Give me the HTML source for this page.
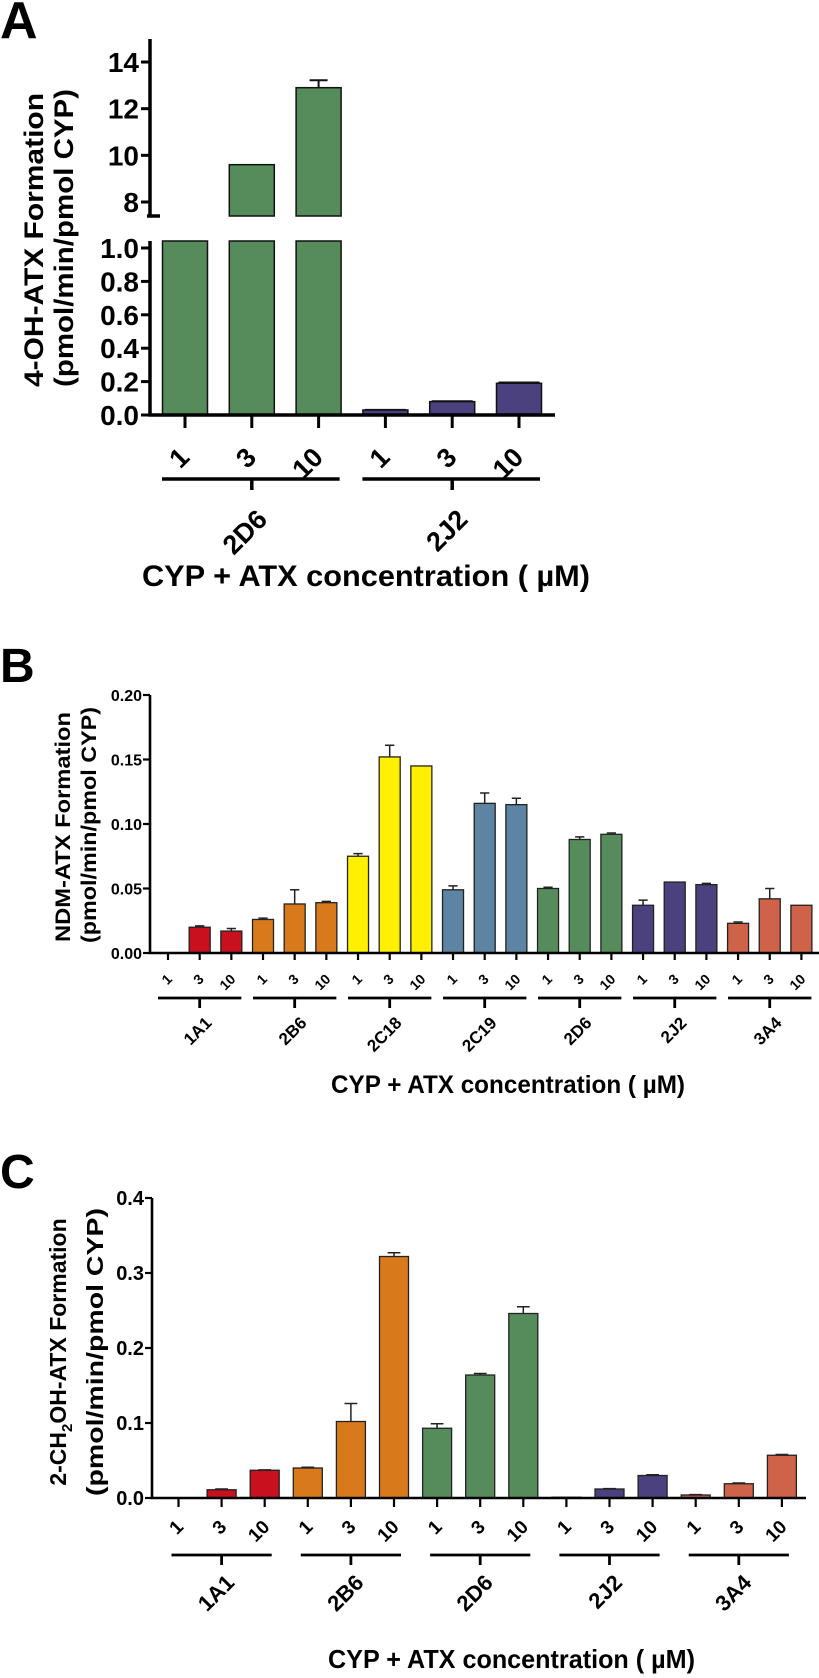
<!DOCTYPE html>
<html><head><meta charset="utf-8">
<style>
html,body{margin:0;padding:0;background:#fff;}
svg{display:block;font-family:"Liberation Sans Narrow","Liberation Sans",Arial,sans-serif;font-weight:bold;}
</style></head>
<body>
<svg id="fig" width="819" height="1678" viewBox="0 0 819 1678" xmlns="http://www.w3.org/2000/svg">
<text x="0" y="38" font-size="52" font-family="Liberation Sans, sans-serif">A</text>
<text x="0" y="682" font-size="48" font-family="Liberation Sans, sans-serif">B</text>
<text x="0" y="1188" font-size="48" font-family="Liberation Sans, sans-serif">C</text>
<g id="pa"></g>
<g id="pb"></g>
<g id="pc"></g>
</svg>
<script>
// ---- Panel A data ----
const aGroups = ["2D6","2J2"];
const aConc = ["1","3","10"];
const aValues = [3.0, 9.6, 12.9, 0.03, 0.08, 0.19];
const aErrors = [0, 0.02, 0.32, 0.002, 0.004, 0.006];
const aUpperTicks = [8, 10, 12, 14];
const aLowerTicks = ["0.0","0.2","0.4","0.6","0.8","1.0"];
// ---- Panel B data ----
const bGroups = ["1A1","2B6","2C18","2C19","2D6","2J2","3A4"];
const bConc = ["1","3","10"];
const bValues = [0, 0.020, 0.017, 0.026, 0.038, 0.039, 0.075, 0.152, 0.145, 0.049, 0.116, 0.115, 0.050, 0.088, 0.092, 0.037, 0.055, 0.053, 0.023, 0.042, 0.037];
const bErrors = [0, 0.001, 0.002, 0.001, 0.011, 0.001, 0.002, 0.009, 0, 0.003, 0.008, 0.005, 0.001, 0.002, 0.001, 0.004, 0, 0.001, 0.001, 0.008, 0];
const bTicks = ["0.00","0.05","0.10","0.15","0.20"];
// ---- Panel C data ----
const cGroups = ["1A1","2B6","2D6","2J2","3A4"];
const cConc = ["1","3","10"];
const cValues = [0, 0.011, 0.037, 0.040, 0.102, 0.322, 0.093, 0.164, 0.246, 0.001, 0.012, 0.030, 0.004, 0.019, 0.057];
const cErrors = [0, 0.001, 0.0005, 0.001, 0.024, 0.005, 0.006, 0.002, 0.009, 0, 0.0005, 0.001, 0.0005, 0.001, 0.001];
const cTicks = ["0.0","0.1","0.2","0.3","0.4"];

const colorMap = {"1A1":"#c8101e","2B6":"#d87a1c","2C18":"#fff000","2C19":"#5e84a3","2D6":"#568c5c","2J2":"#4a417e","3A4":"#cf634a"};
const NS = "http://www.w3.org/2000/svg";
function mk(parent, tag, attrs, txt){
  const e = document.createElementNS(NS, tag);
  for (const k in attrs) e.setAttribute(k, attrs[k]);
  if (txt !== undefined) e.textContent = txt;
  parent.appendChild(e);
  return e;
}

// ================= Panel A =================
(function(){
  const g = document.getElementById('pa');
  const axX = 150, x0 = 185, dx = 66.8, bw = 45;
  const yL = v => 415 - v * 167;
  const yU = v => 202 - (v - 8) * 23.33;
  const lowTop = 241, upBot = 216;
  aValues.forEach((v, i) => {
    const grp = aGroups[Math.floor(i / 3)];
    const cx = x0 + i * dx;
    const col = colorMap[grp];
    const top = Math.max(yL(v), lowTop);
    const r = mk(g, 'rect', {x: cx - bw/2, y: top, width: bw, height: 415 - top, fill: col, stroke: '#111', 'stroke-width': 1.5});
    
    
    if (v > 7.4) {
      const ut = yU(v);
      const r2 = mk(g, 'rect', {x: cx - bw/2, y: ut, width: bw, height: upBot - ut, fill: col, stroke: '#111', 'stroke-width': 1.5});
      
      
      const e = aErrors[i];
      if (e > 0.05) {
        const ey = yU(v + e);
        const el = mk(g, 'path', {d: `M${cx} ${ut} V${ey} M${cx-9} ${ey} H${cx+9}`, stroke: '#111', 'stroke-width': 2, fill: 'none'});
        
        
      }
    } else if (aErrors[i] > 0) {
      const ey = yL(v + aErrors[i]);
      const el = mk(g, 'path', {d: `M${cx-bw/2+2} ${ey} H${cx+bw/2-2}`, stroke: '#111', 'stroke-width': 1.5, fill: 'none'});
      
      
    }
    mk(g, 'line', {x1: cx, y1: 415, x2: cx, y2: 428, stroke: '#000', 'stroke-width': 3});
    const t = mk(g, 'text', {x: 0, y: 0, 'font-size': 27, 'text-anchor': 'end', 'font-family': 'Liberation Sans, sans-serif', transform: `translate(${cx + 6},${459}) rotate(-45)`}, aConc[i % 3]);
    
    
  });
  const ax = mk(g, 'path', {d: `M${axX} 39 V${upBot} M${axX-3} ${upBot} H${axX+10} M${axX} ${lowTop} V415 H555`, stroke: '#000', 'stroke-width': 3.5, fill: 'none'});
  
  
  aUpperTicks.forEach(v => {
    const y = yU(v);
    mk(g, 'line', {x1: axX - 9, y1: y, x2: axX, y2: y, stroke: '#000', 'stroke-width': 3});
    const t = mk(g, 'text', {x: axX - 11, y: y + 10, 'font-size': 28, 'text-anchor': 'end', 'font-family': 'Liberation Sans, sans-serif'}, String(v));
    
    
  });
  aLowerTicks.forEach(s => {
    const y = yL(parseFloat(s));
    mk(g, 'line', {x1: axX - 9, y1: y, x2: axX, y2: y, stroke: '#000', 'stroke-width': 3});
    const t = mk(g, 'text', {x: axX - 11, y: y + 10, 'font-size': 28, 'text-anchor': 'end', 'font-family': 'Liberation Sans, sans-serif'}, s);
    
    
  });
  aGroups.forEach((gname, k) => {
    const c0 = x0 + k * 3 * dx, c2 = c0 + 2 * dx, cm = c0 + dx;
    mk(g, 'path', {d: `M${c0-23} 479 H${c2+21} M${cm} 479 V490`, stroke: '#000', 'stroke-width': 3.5, fill: 'none'});
    const t = mk(g, 'text', {x: 0, y: 0, 'font-size': 27, 'text-anchor': 'end', 'font-family': 'Liberation Sans, sans-serif', transform: `translate(${cm + 17},${521}) rotate(-45)`}, gname);
    
    
  });
  const xt = mk(g, 'text', {x: 142, y: 586, 'font-size': 30, 'font-family': 'Liberation Sans, sans-serif', textLength: 448, lengthAdjust: 'spacingAndGlyphs'}, 'CYP + ATX concentration ( \u00b5M)');
  
  
  const y1 = mk(g, 'text', {x: 0, y: 0, 'font-size': 27, 'text-anchor': 'middle', 'font-family': 'Liberation Sans, sans-serif', textLength: 294, lengthAdjust: 'spacingAndGlyphs', transform: 'translate(43,240) rotate(-90)'}, '4-OH-ATX Formation');
  
  
  const y2 = mk(g, 'text', {x: 0, y: 0, 'font-size': 27, 'text-anchor': 'middle', 'font-family': 'Liberation Sans, sans-serif', textLength: 298, lengthAdjust: 'spacingAndGlyphs', transform: 'translate(73,238) rotate(-90)'}, '(pmol/min/pmol CYP)');
  
  
})();

// ================= Generic panel (B, C) =================
function panel(id, groups, conc, values, errors, ticks, cfg){
  const g = document.getElementById(id);
  const y = v => cfg.y0 - v * cfg.k;
  values.forEach((v, i) => {
    const grp = groups[Math.floor(i / 3)];
    const cx = cfg.x0 + i * cfg.dx;
    if (v > 0) {
      const r = mk(g, 'rect', {x: cx - cfg.bw/2, y: y(v), width: cfg.bw, height: cfg.y0 - y(v), fill: colorMap[grp], stroke: '#222', 'stroke-width': 1.3});
      
      
    }
    if (errors[i] > 0 && v > 0) {
      const ey = y(v + errors[i]);
      const cw = cfg.bw * 0.22;
      const el = mk(g, 'path', {d: `M${cx} ${y(v)} V${ey} M${cx-cw} ${ey} H${cx+cw}`, stroke: '#222', 'stroke-width': 1.5, fill: 'none'});
      
      
    }
    mk(g, 'line', {x1: cx, y1: cfg.y0, x2: cx, y2: cfg.y0 + cfg.tl, stroke: '#000', 'stroke-width': 2.2});
    const t = mk(g, 'text', {x: 0, y: 0, 'font-size': cfg.tf, 'text-anchor': 'end', transform: `translate(${cx + cfg.tfx},${cfg.tly}) rotate(-45)`}, conc[i % 3]);
    
    
  });
  const ax = mk(g, 'path', {d: `M${cfg.ax} ${y(parseFloat(ticks[ticks.length-1]))} V${cfg.y0} H${cfg.xEnd}`, stroke: '#000', 'stroke-width': 2.6, fill: 'none'});
  
  
  ticks.forEach(s => {
    const yy = y(parseFloat(s));
    mk(g, 'line', {x1: cfg.ax - 7, y1: yy, x2: cfg.ax, y2: yy, stroke: '#000', 'stroke-width': 2.2});
    const t = mk(g, 'text', {x: cfg.ax - 8, y: yy + cfg.yf * 0.36, 'font-size': cfg.yf, 'text-anchor': 'end'}, s);
    
    
  });
  groups.forEach((gname, k) => {
    const c0 = cfg.x0 + k * 3 * cfg.dx, c2 = c0 + 2 * cfg.dx, cm = c0 + cfg.dx;
    mk(g, 'path', {d: `M${c0-cfg.gp} ${cfg.gy} H${c2+cfg.gp} M${cm} ${cfg.gy} V${cfg.gy + 10}`, stroke: '#000', 'stroke-width': 2.8, fill: 'none'});
    const t = mk(g, 'text', {x: 0, y: 0, 'font-size': cfg.gf, 'text-anchor': 'end', transform: `translate(${cm + cfg.gfx},${cfg.gly}) rotate(-45)`}, gname);
    
    
  });
  const xt = mk(g, 'text', {x: cfg.xtx, y: cfg.xty, 'font-size': cfg.xtf, textLength: cfg.xtl, lengthAdjust: 'spacingAndGlyphs'}, 'CYP + ATX concentration ( \u00b5M)');
  
  
  return g;
}

panel('pb', bGroups, bConc, bValues, bErrors, bTicks, {
  x0: 168, dx: 31.67, bw: 21, y0: 953, k: 1290, ax: 150, xEnd: 819, tl: 7,
  tf: 14, tfx: 5, tly: 980, yf: 16, gy: 998, gp: 10, gf: 17, gfx: 13, gly: 1024,
  xtx: 331, xty: 1093, xtf: 25, xtl: 354
});
panel('pc', cGroups, cConc, cValues, cErrors, cTicks, {
  x0: 178.5, dx: 43.1, bw: 29, y0: 1498, k: 750, ax: 152, xEnd: 806, tl: 9,
  tf: 19, tfx: 6, tly: 1528, yf: 20, gy: 1555, gp: 7, gf: 22, gfx: 14, gly: 1584,
  xtx: 328, xty: 1668, xtf: 26, xtl: 367
});

(function(){
  const gb = document.getElementById('pb');
  const b1 = mk(gb, 'text', {x: 0, y: 0, 'font-size': 21, 'text-anchor': 'middle', 'font-family': 'Liberation Sans, sans-serif', textLength: 230, lengthAdjust: 'spacingAndGlyphs', transform: 'translate(70,827) rotate(-90)'}, 'NDM-ATX Formation');
  
  
  const b2 = mk(gb, 'text', {x: 0, y: 0, 'font-size': 21, 'text-anchor': 'middle', 'font-family': 'Liberation Sans, sans-serif', textLength: 236, lengthAdjust: 'spacingAndGlyphs', transform: 'translate(96,825) rotate(-90)'}, '(pmol/min/pmol CYP)');
  
  
  const gc = document.getElementById('pc');
  const c1 = mk(gc, 'text', {x: 0, y: 0, 'font-size': 23, 'text-anchor': 'middle', 'font-family': 'Liberation Sans, sans-serif', transform: 'translate(66,1352) rotate(-90)'});
  
  
  mk(c1, 'tspan', {}, '2-CH');
  mk(c1, 'tspan', {dy: 6, 'font-size': 15}, '2');
  mk(c1, 'tspan', {dy: -6}, 'OH-ATX Formation');
  const c2 = mk(gc, 'text', {x: 0, y: 0, 'font-size': 23, 'text-anchor': 'middle', 'font-family': 'Liberation Sans, sans-serif', textLength: 288, lengthAdjust: 'spacingAndGlyphs', transform: 'translate(103,1352) rotate(-90)'}, '(pmol/min/pmol CYP)');
  
  
})();
</script>
</body></html>
